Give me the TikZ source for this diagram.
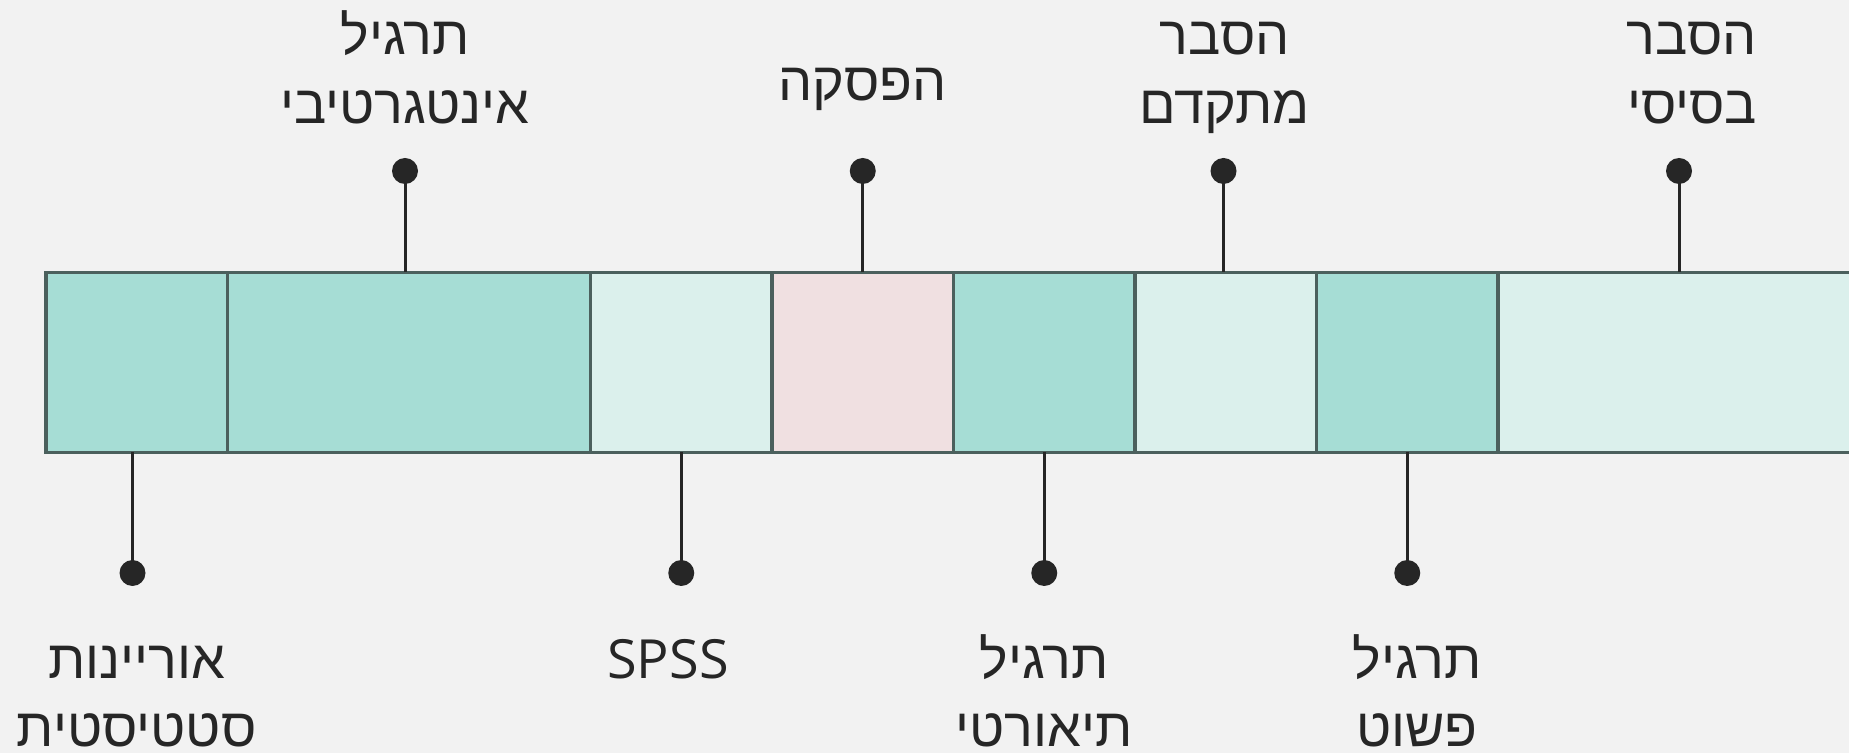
\documentclass[tikz,border=0pt]{standalone}
\usepackage{fontspec}
\TeXXeTstate=1
\setmainfont{Open Sans}
\newfontfamily\hefont[Script=Hebrew,Scale=0.94]{Liberation Sans}
\definecolor{bgc}{HTML}{F2F2F2}
\definecolor{darkteal}{HTML}{A6DDD5}
\definecolor{lightteal}{HTML}{DBF0EC}
\definecolor{pinkc}{HTML}{F0E0E1}
\definecolor{borderc}{HTML}{4B605D}
\definecolor{ink}{HTML}{262626}
\tikzset{
  seg/.style={rectangle, draw=borderc, line width=1.6pt, minimum height=90pt, inner sep=0pt, outer sep=0pt},
  unitseg/.style={seg, minimum width=90.75pt},
  dblseg/.style={seg, minimum width=181.5pt},
  dotnode/.style={circle, fill=ink, inner sep=0pt, minimum size=13pt},
  stem/.style={draw=ink, line width=1.5pt},
  lbl/.style={anchor=base, inner sep=0pt, text=ink, font=\fontsize{27}{32}\selectfont},
  hlbl/.style={lbl, font=\fontsize{28.7}{34.4}\selectfont\hefont}
}
\begin{document}
\begin{tikzpicture}[x=0.5pt,y=-0.5pt]
\fill[bgc] (0,0) rectangle (1849,753);
\useasboundingbox (0,0) rectangle (1849,753);
\clip (0,0) rectangle (1849,753);
% bar segments
\node[unitseg, fill=darkteal]  (s1) at (136.75,362.5) {};
\node[dblseg,  fill=darkteal]  (s2) at (409,362.5) {};
\node[unitseg, fill=lightteal] (s3) at (681.25,362.5) {};
\node[unitseg, fill=pinkc]     (s4) at (862.75,362.5) {};
\node[unitseg, fill=darkteal]  (s5) at (1044.25,362.5) {};
\node[unitseg, fill=lightteal] (s6) at (1225.75,362.5) {};
\node[unitseg, fill=darkteal]  (s7) at (1407.25,362.5) {};
\node[dblseg,  fill=lightteal] (s8) at (1679.5,362.5) {};
% dots
\node[dotnode] (d2) at (405,171) {};
\node[dotnode] (d4) at (862.75,171) {};
\node[dotnode] (d6) at (1223.5,171) {};
\node[dotnode] (d8) at (1679,171) {};
\node[dotnode] (d1) at (132.5,573) {};
\node[dotnode] (d3) at (681.25,573) {};
\node[dotnode] (d5) at (1044.25,573) {};
\node[dotnode] (d7) at (1407.25,573) {};
% stems
\draw[stem] (d2.center) -- (d2.center |- s2.north);
\draw[stem] (s4.north) -- (d4.center);
\draw[stem] (d6.center) -- (d6.center |- s6.north);
\draw[stem] (d8.center) -- (d8.center |- s8.north);
\draw[stem] (d1.center) -- (d1.center |- s1.south);
\draw[stem] (s3.south) -- (d3.center);
\draw[stem] (s5.south) -- (d5.center);
\draw[stem] (s7.south) -- (d7.center);
% top labels
\node[hlbl] (t2a) at (405,55) {\beginR תרגיל\endR};
\node[hlbl] (t2b) at (405,124) {\beginR אינטגרטיבי\endR};
\node[hlbl] (t4)  at (862.75,101) {\beginR הפסקה\endR};
\node[hlbl] (t6a) at (1224.5,55) {\beginR הסבר\endR};
\node[hlbl] (t6b) at (1224.5,124) {\beginR מתקדם\endR};
\node[hlbl] (t8a) at (1692,55) {\beginR הסבר\endR};
\node[hlbl] (t8b) at (1692,124) {\beginR בסיסי\endR};
% bottom labels
\node[hlbl] (b1a) at (136.75,678) {\beginR אוריינות\endR};
\node[hlbl] (b1b) at (136.75,747) {\beginR סטטיסטית\endR};
\node[lbl]  (b3)  at (668,678) {SPSS};
\node[hlbl] (b5a) at (1044.25,678) {\beginR תרגיל\endR};
\node[hlbl] (b5b) at (1044.25,747) {\beginR תיאורטי\endR};
\node[hlbl] (b7a) at (1417,678) {\beginR תרגיל\endR};
\node[hlbl] (b7b) at (1417,747) {\beginR פשוט\endR};
\end{tikzpicture}
\end{document}
